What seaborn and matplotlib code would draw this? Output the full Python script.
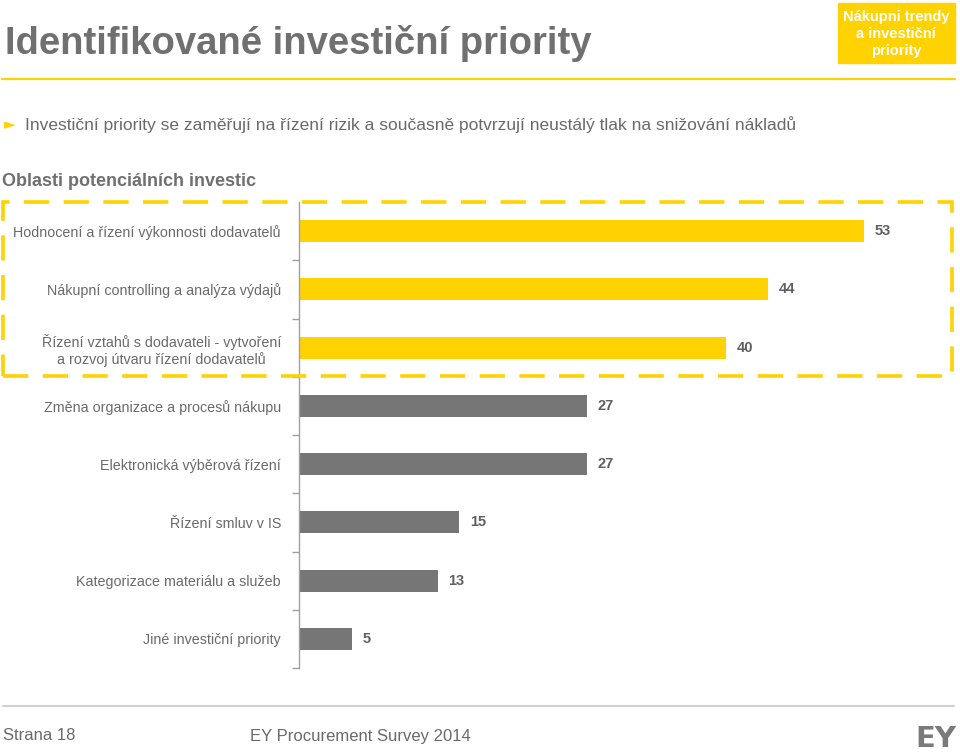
import matplotlib
matplotlib.use("Agg")
import matplotlib.pyplot as plt
import seaborn as sns
import pandas as pd
from matplotlib.patches import Rectangle
from matplotlib.lines import Line2D

# data
categories = [
    "Hodnocení a řízení výkonnosti dodavatelů",
    "Nákupní controlling a analýza výdajů",
    "Řízení vztahů s dodavateli - vytvoření\na rozvoj útvaru řízení dodavatelů",
    "Změna organizace a procesů nákupu",
    "Elektronická výběrová řízení",
    "Řízení smluv v IS",
    "Kategorizace materiálu a služeb",
    "Jiné investiční priority",
]
values = [53, 44, 40, 27, 27, 15, 13, 5]
highlight = [True, True, True, False, False, False, False, False]

YELLOW = "#FFD200"
GREY_BAR = "#767676"
TEXT = "#6a6a6a"

df = pd.DataFrame({"category": categories, "value": values})
bar_colors = [YELLOW if h else GREY_BAR for h in highlight]

sns.set_style("white")
plt.rcParams["font.family"] = ["Liberation Sans", "DejaVu Sans"]

fig = plt.figure(figsize=(9.6, 7.54), dpi=100)
ax = fig.add_axes([299 / 960, 1 - 668 / 754, 640 / 960, 466 / 754])

sns.barplot(data=df, x="value", y="category", hue="category",
            palette=bar_colors, legend=False, width=0.38, ax=ax,
            saturation=1, edgecolor="none")

ax.set_xlim(0, 60)
ax.set_ylim(7.5, -0.5)
ax.set_xlabel("")
ax.set_ylabel("")
ax.set_xticks([])
for s in ["top", "right", "bottom"]:
    ax.spines[s].set_visible(False)
ax.spines["left"].set_color("#a0a0a0")
ax.spines["left"].set_linewidth(1)

# category labels, ticks at boundaries
ax.set_yticks(range(len(categories)))
ax.set_yticklabels(categories, fontsize=10.3, color=TEXT, multialignment="center")
ax.tick_params(axis="y", which="major", length=0, pad=13)
ax.set_yticks([i + 0.5 for i in range(len(categories))], minor=True)
ax.tick_params(axis="y", which="minor", left=True, length=5, width=1,
               color="#a0a0a0", direction="out")

for i, v in enumerate(values):
    ax.text(v + 1.0, i, str(v), va="center", ha="left", fontsize=10.5,
            fontweight="bold", color="#606060")

# dashed highlight box
box = Rectangle((3 / 960, 1 - 376 / 754), 949 / 960, 174 / 754,
                transform=fig.transFigure, fill=False, edgecolor=YELLOW,
                linewidth=2.6, linestyle=(0, (7, 4)), zorder=0)
fig.patches.append(box)

# header
fig.text(5 / 960, 1 - 44 / 754, "Identifikované investiční priority", fontsize=27.5,
         fontweight="bold", color="#707070", va="center", ha="left")
fig.lines.append(Line2D([2 / 960, 955 / 960], [1 - 79 / 754, 1 - 79 / 754],
                        transform=fig.transFigure, color=YELLOW, linewidth=1.6))
tag = Rectangle((838 / 960, 1 - 63 / 754), 117 / 960, 60 / 754,
                transform=fig.transFigure, color=YELLOW, zorder=1)
fig.patches.append(tag)
fig.text(896 / 960, 1 - 34 / 754, "Nákupni trendy\na investiční\npriority",
         fontsize=10.5, fontweight="bold", color="white", ha="center", va="center",
         linespacing=1.3, zorder=2)

fig.text(4 / 960, 1 - 125 / 754, "►", fontsize=11, color=YELLOW, va="center",
         family=["DejaVu Sans"])
fig.text(25 / 960, 1 - 125 / 754,
         "Investiční priority se zaměřují na řízení rizik a současně potvrzují neustálý tlak na snižování nákladů",
         fontsize=12.5, color=TEXT, va="center", ha="left")
fig.text(2 / 960, 1 - 181 / 754, "Oblasti potenciálních investic", fontsize=13,
         fontweight="bold", color="#707070", va="center", ha="left")

# footer
fig.lines.append(Line2D([3 / 960, 954 / 960], [1 - 706 / 754, 1 - 706 / 754],
                        transform=fig.transFigure, color="#d0d0d0", linewidth=1.5))
fig.text(3 / 960, 1 - 736 / 754, "Strana 18", fontsize=12, color=TEXT, va="center")
fig.text(250 / 960, 1 - 736 / 754, "EY Procurement Survey 2014", fontsize=12,
         color=TEXT, va="center")
fig.text(956 / 960, 1 - 739 / 754, "EY", fontsize=21, fontweight="bold",
         color="#7a7a7a", va="center", ha="right",
         family=["DejaVu Sans Condensed", "DejaVu Sans"])

fig.savefig("out.png", dpi=100)
